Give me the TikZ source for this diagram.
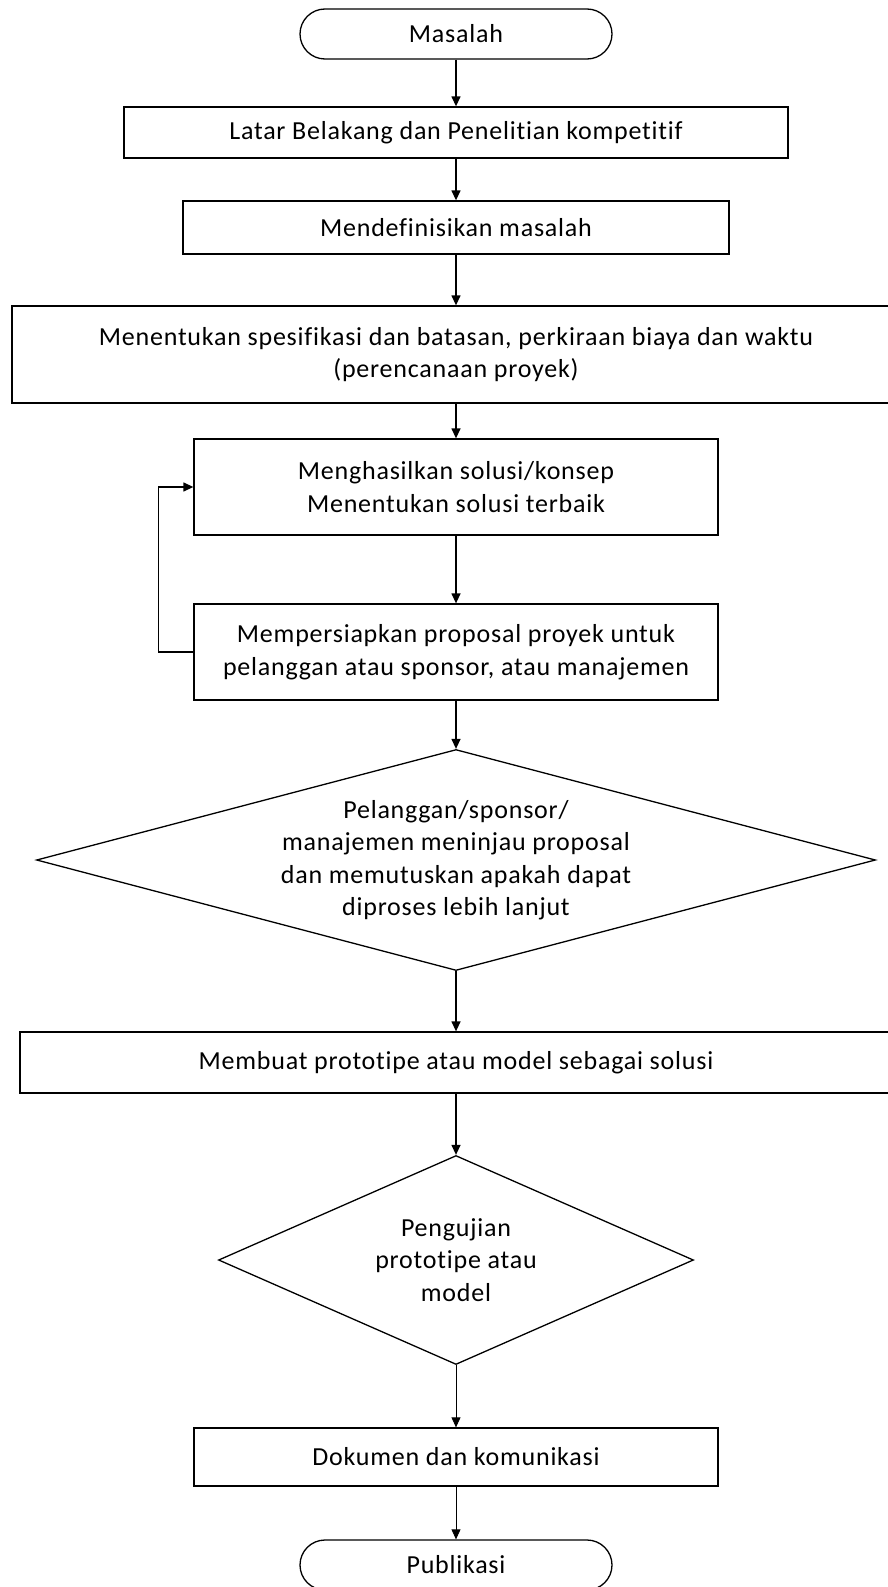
\documentclass[tikz,border=0pt]{standalone}
\usepackage{fontspec}
\setmainfont[Ligatures=NoCommon,LetterSpace=3]{Carlito}
\usetikzlibrary{arrows.meta,shapes.geometric}
\begin{document}
\begin{tikzpicture}[x=1pt,y=-1pt,
    box/.style={draw,line width=1.3pt,rectangle,align=center,inner sep=0pt},
    decision/.style={draw,line width=1.3pt,diamond,align=center,inner sep=0pt},
    terminal/.style={draw,line width=1.3pt,rectangle,rounded corners=25pt,align=center,inner sep=0pt,minimum width=312pt,minimum height=50pt},
    flow/.style={line width=1.3pt,-{Triangle[length=10pt,width=9pt]}},
    thinflow/.style={line width=0.8pt,-{Triangle[length=10pt,width=9pt]}}]
    \useasboundingbox (0,0) rectangle (888,1587);
    \fontsize{26}{32.5}\selectfont
    \node[terminal] (masalah) at (456,34) {Masalah};
    \node[box,minimum width=664pt,minimum height=51pt] (latar) at (456,132.5) {Latar Belakang dan Penelitian kompetitif};
    \node[box,minimum width=546pt,minimum height=53pt] (definisi) at (456,227.5) {Mendefinisikan masalah};
    \node[box,minimum width=888pt,minimum height=97pt] (spesifikasi) at (456,354.5) {Menentukan spesifikasi dan batasan, perkiraan biaya dan waktu\\(perencanaan proyek)};
    \node[box,minimum width=524pt,minimum height=96pt] (solusi) at (456,487) {Menghasilkan solusi/konsep\\Menentukan solusi terbaik};
    \node[box,minimum width=524pt,minimum height=96pt] (proposal) at (456,652) {Mempersiapkan proposal proyek untuk\\pelanggan atau sponsor, atau manajemen};
    \node[decision,aspect=3.8,minimum width=839pt,minimum height=221pt] (tinjau) at (456,860) {Pelanggan/sponsor/\\manajemen meninjau proposal\\dan memutuskan apakah dapat\\diproses lebih lanjut};
    \node[box,minimum width=872pt,minimum height=61pt] (prototipe) at (456,1062.5) {Membuat prototipe atau model sebagai solusi};
    \node[decision,aspect=2.27,minimum width=475pt,minimum height=209pt] (uji) at (456,1260) {Pengujian\\prototipe atau\\model};
    \node[box,minimum width=524pt,minimum height=58pt] (dokumen) at (456,1457) {Dokumen dan komunikasi};
    \node[terminal] (publikasi) at (456,1565) {Publikasi};

    \draw[flow] (masalah) -- (latar);
    \draw[flow] (latar) -- (definisi);
    \draw[flow] (definisi) -- (spesifikasi);
    \draw[flow] (spesifikasi) -- (solusi);
    \draw[flow] (solusi) -- (proposal);
    \draw[flow] (proposal.west) -- ++(-35,0) |- (solusi.west);
    \draw[flow] (proposal) -- (tinjau);
    \draw[flow] (tinjau) -- (prototipe);
    \draw[flow] (prototipe) -- (uji);
    \draw[thinflow] (uji) -- (dokumen);
    \draw[thinflow] (dokumen) -- (publikasi);
\end{tikzpicture}
\end{document}
